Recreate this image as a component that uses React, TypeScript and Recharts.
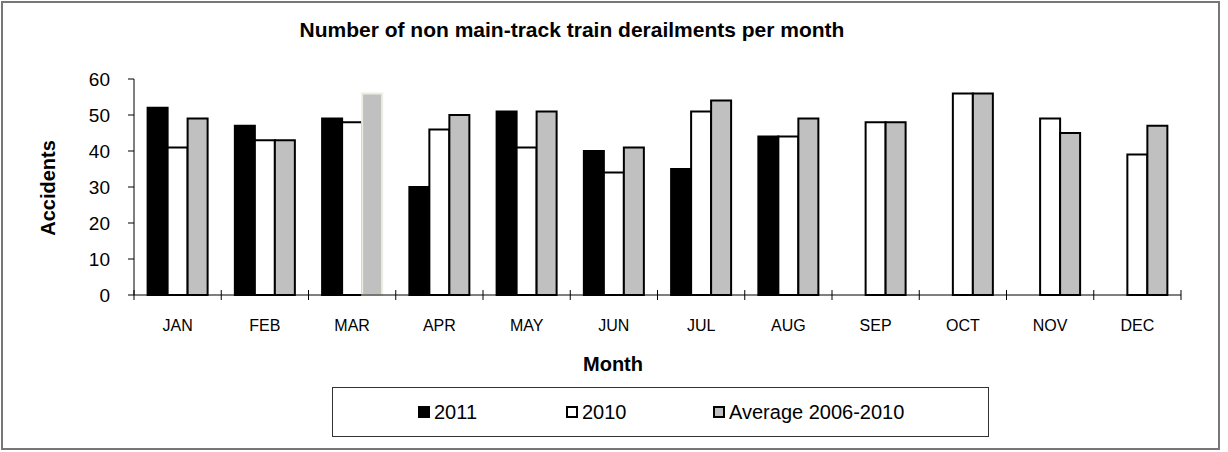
import { BarChart, Bar, XAxis, YAxis, Cell } from "recharts";

const months = ["JAN", "FEB", "MAR", "APR", "MAY", "JUN", "JUL", "AUG", "SEP", "OCT", "NOV", "DEC"];
const y2011 = [52, 47, 49, 30, 51, 40, 35, 44, null, null, null, null];
const y2010 = [41, 43, 48, 46, 41, 34, 51, 44, 48, 56, 49, 39];
const avg0610 = [49, 43, 56, 50, 51, 41, 54, 49, 48, 56, 45, 47];
const yTicks = [0, 10, 20, 30, 40, 50, 60];

const data = months.map((m, i) => ({
  month: m,
  y2011: y2011[i],
  y2010: y2010[i],
  avg: avg0610[i],
}));

const W = 1228;
const H = 452;
const margin = { top: 79, right: 47, bottom: 127, left: 74 };
const Y_AXIS_W = 60;
const X_AXIS_H = 30;
const BAND = (W - margin.left - margin.right - Y_AXIS_W) / months.length;
const FONT = "Arial, 'Liberation Sans', sans-serif";

// month label plus a separator tick at the left edge of each category
const MonthTick = (props: any) => {
  const { x, y, payload, index } = props;
  const half = BAND / 2;
  return (
    <g>
      <text x={x} y={y + 36} textAnchor="middle" fontSize={16} fontFamily={FONT} fill="#000">
        {payload.value}
      </text>
      <line x1={x - half} x2={x - half} y1={y - 5} y2={y + 5} stroke="#000" strokeWidth={1} />
      {index === months.length - 1 && (
        <line x1={x + half} x2={x + half} y1={y - 5} y2={y + 5} stroke="#000" strokeWidth={1} />
      )}
    </g>
  );
};

const legendItems = [
  { name: "2011", fill: "#000", left: 85 },
  { name: "2010", fill: "#fff", left: 233 },
  { name: "Average 2006-2010", fill: "#C0C0C0", left: 380 },
];

export default function App() {
  return (
    <div style={{ position: "absolute", left: 0, top: 0, width: W, height: H, background: "#fff", fontFamily: FONT }}>
      <div
        style={{
          position: "absolute",
          left: 1,
          top: 1,
          width: 1219,
          height: 449,
          boxSizing: "border-box",
          border: "2px solid #777",
        }}
      />
      <BarChart
        width={W}
        height={H}
        data={data}
        margin={margin}
        barCategoryGap="15.6%"
        barGap={0}
        style={{ position: "absolute", left: 0, top: 0 }}
      >
        <XAxis
          dataKey="month"
          height={X_AXIS_H}
          axisLine={{ stroke: "#000", strokeWidth: 1 }}
          tickLine={false}
          tickSize={0}
          tickMargin={0}
          interval={0}
          tick={<MonthTick />}
        />
        <YAxis
          width={Y_AXIS_W}
          domain={[0, 60]}
          ticks={yTicks}
          interval={0}
          axisLine={{ stroke: "#000", strokeWidth: 1 }}
          tickLine={{ stroke: "#000", strokeWidth: 1 }}
          tickSize={6}
          tickMargin={18}
          tick={{ fontSize: 19, fontFamily: FONT, fill: "#000" }}
        />
        <Bar dataKey="y2011" fill="#000" stroke="#000" strokeWidth={2} isAnimationActive={false} />
        <Bar dataKey="y2010" fill="#fff" stroke="#000" strokeWidth={2} isAnimationActive={false} />
        <Bar dataKey="avg" fill="#C0C0C0" stroke="#000" strokeWidth={2} isAnimationActive={false}>
          {data.map((d, i) => (
            <Cell key={`avg-${i}`} fill="#C0C0C0" stroke={d.month === "MAR" ? "#EEECE1" : "#000"} />
          ))}
        </Bar>
      </BarChart>

      {/* title */}
      <div
        style={{
          position: "absolute",
          left: 296,
          top: 18,
          width: 552,
          textAlign: "center",
          fontSize: 21,
          fontWeight: "bold",
          whiteSpace: "nowrap",
        }}
      >
        Number of non main-track train derailments per month
      </div>

      {/* axis titles */}
      <div
        style={{
          position: "absolute",
          left: 48,
          top: 188,
          transform: "translate(-50%, -50%) rotate(-90deg)",
          fontSize: 20,
          fontWeight: "bold",
          whiteSpace: "nowrap",
        }}
      >
        Accidents
      </div>
      <div
        style={{
          position: "absolute",
          left: 613,
          top: 364,
          transform: "translate(-50%, -50%)",
          fontSize: 20,
          fontWeight: "bold",
        }}
      >
        Month
      </div>

      {/* legend */}
      <div
        style={{
          position: "absolute",
          left: 332,
          top: 387,
          width: 657,
          height: 50,
          boxSizing: "border-box",
          border: "1px solid #333",
          background: "#fff",
        }}
      >
        {legendItems.map((it) => (
          <div
            key={it.name}
            style={{ position: "absolute", left: it.left, top: 0, height: 48, display: "flex", alignItems: "center" }}
          >
            <span
              style={{
                display: "inline-block",
                width: 12,
                height: 12,
                boxSizing: "border-box",
                background: it.fill,
                border: "2px solid #000",
                marginRight: 4,
              }}
            />
            <span style={{ fontSize: 20, color: "#000" }}>{it.name}</span>
          </div>
        ))}
      </div>
    </div>
  );
}
